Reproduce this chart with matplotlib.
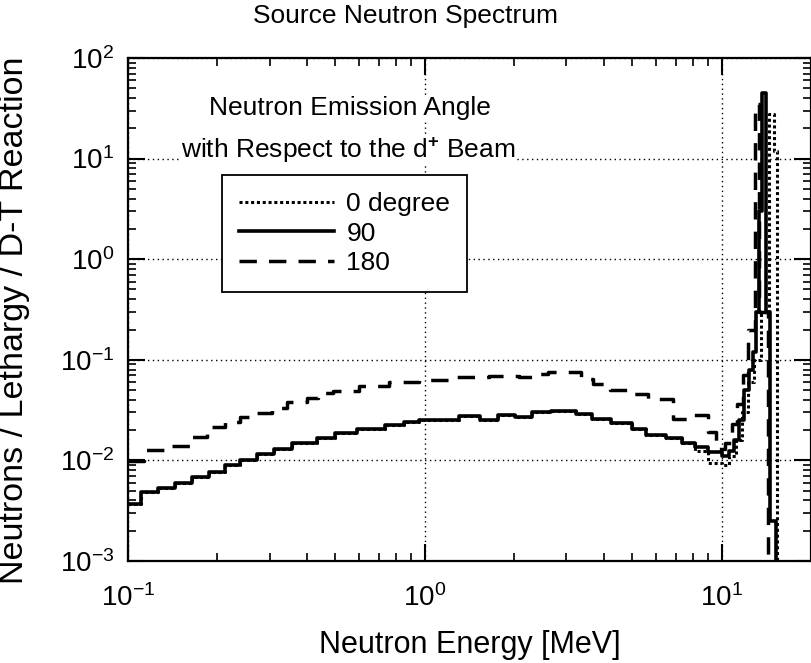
import numpy as np
import matplotlib
matplotlib.use('Agg')
import matplotlib.pyplot as plt
from matplotlib.ticker import LogLocator, NullFormatter

plt.rcParams['font.family'] = 'Liberation Sans'
plt.rcParams['mathtext.fontset'] = 'custom'
plt.rcParams['mathtext.rm'] = 'Liberation Sans'
plt.rcParams['mathtext.it'] = 'Liberation Sans:italic'
plt.rcParams['mathtext.bf'] = 'Liberation Sans:bold'

# widma neutronow zrodlowych, histogram: krawedzie binow [MeV] i wartosci
# 90 stopni
edges_90 = [0.1, 0.111, 0.126, 0.144, 0.164, 0.187, 0.212, 0.238, 0.272, 0.310,
            0.356, 0.433, 0.497, 0.590, 0.733, 0.85, 0.955, 1.30, 1.54, 1.77,
            2.02, 2.29, 2.67, 3.22, 3.65, 4.25, 4.97, 5.55, 6.48, 7.33,
            8.16, 9.02, 10.0, 10.6, 11.0, 11.4, 11.9, 12.4, 12.8, 13.1,
            13.4, 13.7, 14.1, 14.5, 15.2, 15.5]
vals_90 = [0.0037, 0.0048, 0.0053, 0.0060, 0.0069, 0.0077, 0.0089, 0.0100, 0.0117,
           0.0130, 0.0148, 0.0166, 0.0187, 0.0204, 0.0225, 0.0240, 0.0252, 0.0276,
           0.0250, 0.0282, 0.0270, 0.0300, 0.0310, 0.0290, 0.0260, 0.0235, 0.0205,
           0.0178, 0.0166, 0.0148, 0.0135, 0.0120, 0.0110, 0.0125, 0.016, 0.025,
           0.05, 0.08, 0.12, 0.3, 3.0, 45.0, 0.3, 0.0025, 1e-5]

# 0 stopni (ponizej ~8 MeV pokrywa sie z 90)
edges_0 = [0.1, 0.111, 0.126, 0.144, 0.164, 0.187, 0.212, 0.238, 0.272, 0.310,
           0.356, 0.433, 0.497, 0.590, 0.733, 0.85, 0.955, 1.30, 1.54, 1.77,
           2.02, 2.29, 2.67, 3.22, 3.65, 4.25, 4.97, 5.55, 6.48, 7.33,
           8.16, 9.02, 10.0, 10.6, 11.2, 11.7, 12.3, 12.9, 13.6, 14.4,
           15.0, 15.35, 15.6]
vals_0 = [0.0037, 0.0048, 0.0053, 0.0060, 0.0069, 0.0077, 0.0089, 0.0100, 0.0117,
          0.0130, 0.0148, 0.0166, 0.0187, 0.0204, 0.0225, 0.0240, 0.0252, 0.0276,
          0.0250, 0.0282, 0.0270, 0.0300, 0.0310, 0.0290, 0.0260, 0.0235, 0.0205,
          0.0178, 0.0166, 0.0148, 0.0125, 0.0095, 0.0090, 0.011, 0.016, 0.03,
          0.06, 0.1, 0.3, 28.0, 12.0, 1e-5]

# 180 stopni
edges_180 = [0.1, 0.113, 0.139, 0.164, 0.184, 0.212, 0.238, 0.268, 0.305, 0.343,
             0.40, 0.436, 0.490, 0.599, 0.756, 0.954, 1.25, 1.64, 2.07, 2.32,
             2.61, 3.37, 3.70, 4.21, 4.86, 5.66, 6.86, 8.0, 9.0, 9.6,
             10.3, 10.8, 11.3, 11.8, 12.3, 12.95, 13.4, 14.3, 14.6]
vals_180 = [0.0098, 0.0127, 0.0139, 0.0172, 0.0217, 0.0243, 0.0268, 0.0294, 0.033,
            0.0384, 0.0414, 0.0464, 0.0493, 0.0549, 0.0607, 0.063, 0.067, 0.069,
            0.068, 0.073, 0.076, 0.064, 0.057, 0.050, 0.046, 0.0405, 0.026, 0.028,
            0.019, 0.013, 0.015, 0.023, 0.036, 0.07, 0.2, 35.0, 0.3, 1e-5]

labels = ['0 degree', '90', '180']


def stairs(ax, edges, vals, **kw):
    # wykres schodkowy z krawedzi binow
    y = np.append(vals, vals[-1])
    return ax.step(edges, y, where='post', **kw)


fig = plt.figure(figsize=(8.12, 6.63), dpi=100)
ax = fig.add_axes([128 / 812, 102 / 663, 683 / 812, 503 / 663])

ax.set_xscale('log')
ax.set_yscale('log')
ax.set_xlim(0.1, 20)
ax.set_ylim(1e-3, 1e2)

ax.grid(True, which='major', color='black', linestyle=(0, (1, 2.5)), linewidth=1.0)
ax.set_axisbelow(True)

l0, = stairs(ax, edges_0, vals_0, color='black', lw=2.2, linestyle=(0, (1, 0.9)), label=labels[0])
l180, = stairs(ax, edges_180, vals_180, color='black', lw=2.5, linestyle=(0, (5, 3.5)), label=labels[2])
l90, = stairs(ax, edges_90, vals_90, color='black', lw=2.6, label=labels[1])

ax.xaxis.set_minor_locator(LogLocator(base=10, subs=np.arange(2, 10), numticks=20))
ax.yaxis.set_minor_locator(LogLocator(base=10, subs=np.arange(2, 10), numticks=20))
ax.xaxis.set_minor_formatter(NullFormatter())
ax.yaxis.set_minor_formatter(NullFormatter())
ax.tick_params(which='both', direction='in', top=True, right=True, labelsize=20)
ax.tick_params(which='major', length=12, width=1.5)
ax.tick_params(which='minor', length=6, width=1.2)
ax.tick_params(axis='x', pad=17)
ax.tick_params(axis='y', pad=10)
for s in ax.spines.values():
    s.set_linewidth(1.6)

leg = ax.legend([l0, l90, l180], labels, loc='upper left', bbox_to_anchor=(0.138, 0.767),
                borderaxespad=0, fontsize=19, handlelength=3.6, handletextpad=0.45,
                labelspacing=0.2, borderpad=0.65, fancybox=False, framealpha=1,
                edgecolor='black')
leg.get_frame().set_linewidth(1.3)

ax.text(0.325, 0.900, 'Neutron Emission Angle', transform=ax.transAxes,
        ha='center', va='center', fontsize=19,
        bbox=dict(facecolor='white', edgecolor='none', pad=1))
ax.text(0.322, 0.817, r'with Respect to the d$^{\mathbf{+}}$ Beam', transform=ax.transAxes,
        ha='center', va='center', fontsize=19,
        bbox=dict(facecolor='white', edgecolor='none', pad=1))

ax.set_xlabel('Neutron Energy [MeV]', fontsize=22, labelpad=13)
fig.text(15 / 812, 1 - 320 / 663, 'Neutrons / Lethargy / D-T Reaction', rotation=90,
         ha='center', va='center', fontsize=24.5)
fig.text(406 / 812, 1 - 16 / 663, 'Source Neutron Spectrum', ha='center', va='center', fontsize=19)

fig.savefig('out.png', dpi=100)
